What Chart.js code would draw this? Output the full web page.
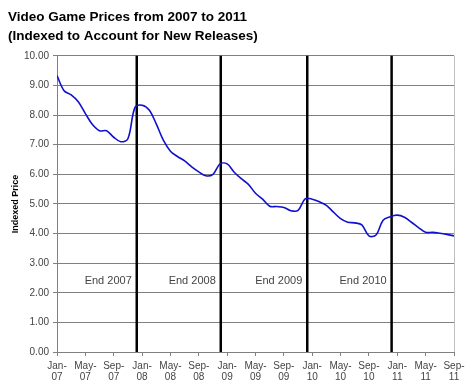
<!DOCTYPE html>
<html lang="en">
<head>
    <meta charset="UTF-8">
    <title>Video Game Prices from 2007 to 2011</title>
    <script src="https://cdn.jsdelivr.net/npm/chart.js"></script>
    <style>
        body {
            margin: 0;
            background: #fff;
        }
        .wrap {
            width: 474px;
            height: 392px;
        }
    </style>
</head>
<body>
    <div class="wrap">
        <canvas id="priceChart" width="474" height="392"></canvas>
    </div>

    <script>
        // monthly index values, Jan-07 .. Sep-11
        var prices = [
            9.33, 8.82, 8.68, 8.45, 8.05, 7.68, 7.47, 7.47, 7.25, 7.10, 7.20, 8.26,
            8.33, 8.17, 7.70, 7.15, 6.78, 6.60, 6.45, 6.25, 6.08, 5.95, 6.00, 6.35,
            6.35, 6.07, 5.85, 5.66, 5.36, 5.16, 4.92, 4.91, 4.88, 4.77, 4.78, 5.17,
            5.16, 5.07, 4.95, 4.72, 4.50, 4.38, 4.36, 4.29, 3.92, 3.95, 4.45, 4.57,
            4.62, 4.55, 4.38, 4.20, 4.04, 4.04, 4.01, 3.97, 3.92
        ];
        // one label every 4 months
        var tickLabels = ['Jan-07', 'May-07', 'Sep-07', 'Jan-08', 'May-08', 'Sep-08',
            'Jan-09', 'May-09', 'Sep-09', 'Jan-10', 'May-10', 'Sep-10',
            'Jan-11', 'May-11', 'Sep-11'];
        // year end markers (month index) and their captions
        var yearEnds = [11.25, 23.1, 35.3, 47.2];
        var yearEndLabels = ['End 2007', 'End 2008', 'End 2009', 'End 2010'];

        var points = prices.map(function(v, i) { return { x: i, y: v }; });

        // black year lines, captions and the right border of the plot
        var yearLines = {
            id: 'yearLines',
            beforeDatasetsDraw: function(chart) {
                var ctx = chart.ctx;
                var area = chart.chartArea;
                var xs = chart.scales.x;
                var ys = chart.scales.y;
                ctx.save();
                ctx.strokeStyle = '#c0c0c0';
                ctx.lineWidth = 1;
                ctx.beginPath();
                ctx.moveTo(Math.round(area.right) + 0.5, area.top);
                ctx.lineTo(Math.round(area.right) + 0.5, area.bottom);
                ctx.stroke();

                ctx.strokeStyle = '#000';
                ctx.lineWidth = 2.5;
                ctx.font = '11px Arial, "Liberation Sans", sans-serif';
                ctx.fillStyle = '#444';
                ctx.textAlign = 'right';
                ctx.textBaseline = 'middle';
                yearEnds.forEach(function(m, i) {
                    var px = xs.getPixelForValue(m);
                    ctx.beginPath();
                    ctx.moveTo(px, area.top);
                    ctx.lineTo(px, area.bottom);
                    ctx.stroke();
                    ctx.fillText(yearEndLabels[i], px - 5, ys.getPixelForValue(2.4));
                });
                ctx.restore();
            }
        };

        new Chart(document.getElementById('priceChart'), {
            type: 'line',
            data: {
                datasets: [{
                    data: points,
                    borderColor: '#1010d0',
                    borderWidth: 1.6,
                    pointRadius: 0,
                    tension: 0.35,
                    fill: false
                }]
            },
            options: {
                responsive: false,
                animation: false,
                layout: {
                    padding: { left: 8, right: 20, top: 0, bottom: 0 }
                },
                plugins: {
                    legend: { display: false },
                    tooltip: { enabled: false },
                    title: {
                        display: true,
                        text: ['Video Game Prices from 2007 to 2011', '(Indexed to Account for New Releases)'],
                        align: 'start',
                        color: '#000',
                        font: { family: 'Arial, "Liberation Sans", sans-serif', size: 13.5, weight: 'bold', lineHeight: 1.4 },
                        padding: { top: 8, bottom: 10 }
                    }
                },
                scales: {
                    x: {
                        type: 'linear',
                        min: 0,
                        max: 56,
                        afterFit: function(s) { s.height = 40; },
                        border: { color: '#808080' },
                        grid: { drawOnChartArea: false, drawTicks: true, tickLength: 4, color: '#808080' },
                        ticks: {
                            stepSize: 4,
                            autoSkip: false,
                            maxRotation: 0,
                            padding: 5,
                            color: '#444',
                            font: { family: 'Arial, "Liberation Sans", sans-serif', size: 10, lineHeight: 1.1 },
                            callback: function(value) {
                                var lbl = tickLabels[value / 4];
                                return lbl ? [lbl.slice(0, 4), lbl.slice(4)] : '';
                            }
                        }
                    },
                    y: {
                        min: 0,
                        max: 10,
                        afterFit: function(s) { s.width = 49; },
                        border: { color: '#808080' },
                        grid: { color: '#808080', tickLength: 4 },
                        title: {
                            display: true,
                            text: 'Indexed Price',
                            color: '#000',
                            font: { family: 'Arial, "Liberation Sans", sans-serif', size: 9, weight: 'bold' },
                            padding: { top: 2, bottom: 0 }
                        },
                        ticks: {
                            stepSize: 1,
                            padding: 4,
                            color: '#444',
                            font: { family: 'Arial, "Liberation Sans", sans-serif', size: 10 },
                            callback: function(value) { return value.toFixed(2); }
                        }
                    }
                }
            },
            plugins: [yearLines]
        });
    </script>
</body>
</html>
